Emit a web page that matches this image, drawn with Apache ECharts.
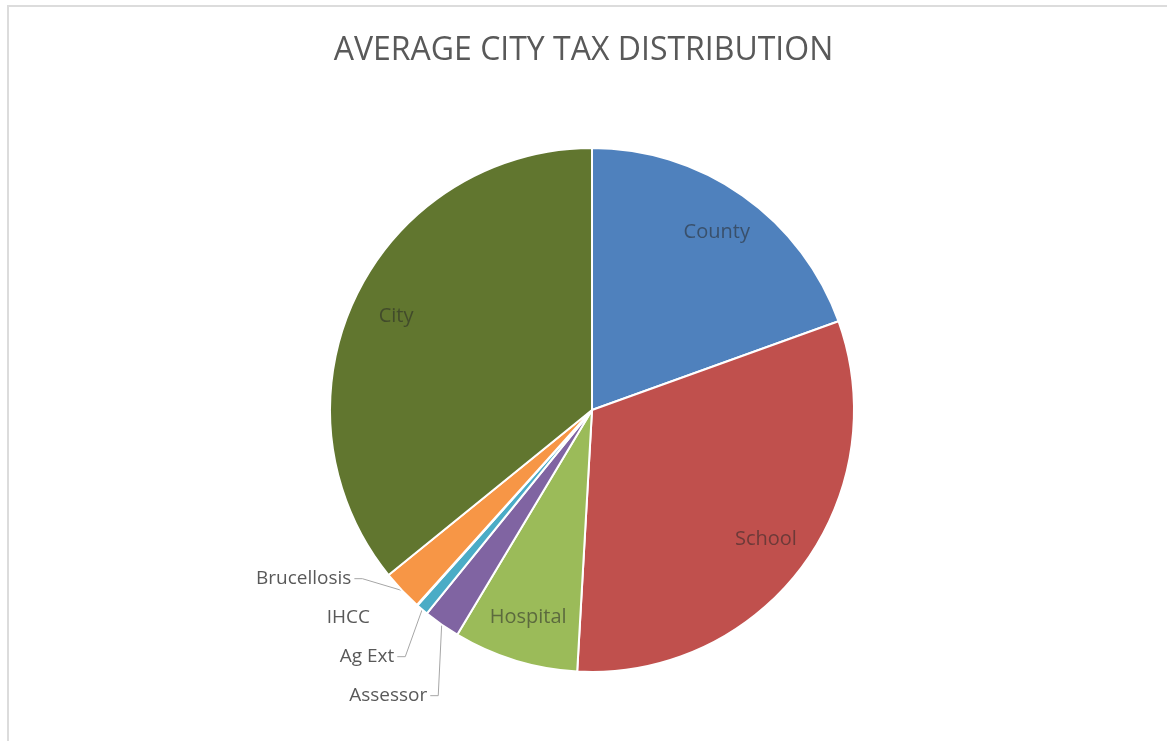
<!DOCTYPE html>
<html>
<head>
<meta charset="utf-8">
<script src="https://cdn.jsdelivr.net/npm/echarts@6/dist/echarts.min.js"></script>
<style>
html,body{margin:0;padding:0;background:#fff;}
#frame{position:absolute;left:7px;top:5px;width:1160px;height:736px;border-top:2px solid #dcdcdc;border-left:2px solid #dcdcdc;box-sizing:border-box;}
#chart{position:absolute;left:0;top:0;width:1167px;height:741px;}
</style>
</head>
<body>
<div id="frame"></div>
<div id="chart"></div>
<script>
const titleText = 'AVERAGE CITY TAX DISTRIBUTION';
const categories = ['County', 'School', 'Hospital', 'Assessor', 'Ag Ext', 'IHCC', 'Brucellosis', 'City'];
const values = [19.5, 31.4, 7.7, 2.25, 0.75, 0.05, 2.5, 35.85];
const colors = ['#4F81BD', '#C0504D', '#9BBB59', '#8064A2', '#4BACC6', '#4BACC6', '#F79646', '#61762F'];
const insideLabeled = ['County', 'School', 'Hospital', 'City'];

const chart = echarts.init(document.getElementById('chart'), null, {renderer: 'canvas'});
const fontFamily = '"Open Sans", "Noto Sans", sans-serif';
const labelShiftY = -16;

const mainData = categories.map((c, i) => ({
  name: c,
  value: values[i],
  itemStyle: {color: colors[i]},
  label: {show: insideLabeled.indexOf(c) < 0},
  labelLine: {show: insideLabeled.indexOf(c) < 0 && c !== 'IHCC'}
}));
const overlayData = categories.map((c, i) => ({
  name: c,
  value: values[i],
  label: {show: insideLabeled.indexOf(c) >= 0}
}));

chart.setOption({
  animation: false,
  title: {
    text: titleText,
    left: 'center',
    top: 30,
    textStyle: {fontFamily: fontFamily, fontSize: 32, fontWeight: 'normal', color: '#595959'}
  },
  series: [
    {
      type: 'pie',
      center: [592, 410],
      radius: 262,
      startAngle: 90,
      clockwise: true,
      avoidLabelOverlap: true,
      itemStyle: {borderColor: '#fff', borderWidth: 2},
      label: {
        position: 'outside',
        fontFamily: fontFamily,
        fontSize: 19,
        lineHeight: 37,
        color: '#595959',
        distanceToLabelLine: 3
      },
      labelLine: {length: 6, length2: 8, lineStyle: {color: '#a6a6a6', width: 1}},
      labelLayout: function (params) {
        const pts = params.labelLinePoints;
        if (!pts || pts.length < 3) { return {dy: labelShiftY}; }
        return {
          dy: labelShiftY,
          labelLinePoints: [
            [pts[0][0], pts[0][1]],
            [pts[1][0], pts[1][1] + labelShiftY],
            [pts[2][0], pts[2][1] + labelShiftY]
          ]
        };
      },
      emphasis: {disabled: true},
      data: mainData
    },
    {
      type: 'pie',
      center: [592, 410],
      radius: [166, 262],
      startAngle: 90,
      clockwise: true,
      silent: true,
      itemStyle: {color: 'rgba(0,0,0,0)'},
      label: {
        position: 'inside',
        fontFamily: fontFamily,
        fontSize: 20,
        color: 'rgba(40,40,40,0.55)'
      },
      labelLine: {show: false},
      emphasis: {disabled: true},
      data: overlayData
    }
  ]
});
</script>
</body>
</html>
